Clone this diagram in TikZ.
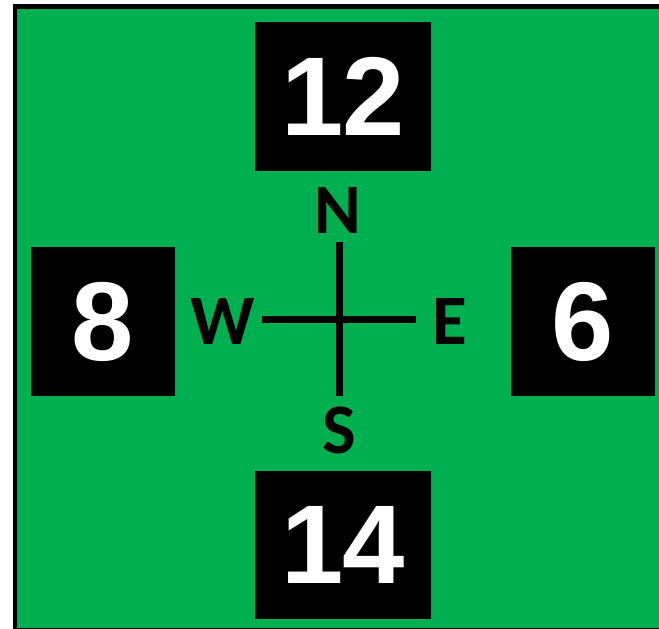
\documentclass[tikz,border=0pt]{standalone}
\usepackage{fontspec}
\newfontfamily\numfont{Liberation Sans}[BoldFont={Liberation Sans Bold}]
\newfontfamily\dirfont{Carlito}[BoldFont={Carlito Bold}]
\definecolor{fieldgreen}{HTML}{00B050}
\begin{document}
\begin{tikzpicture}[x=1pt,y=-1pt,
  numbox/.style={fill=black, text=white, inner sep=0pt, minimum height=149pt,
    font=\numfont\bfseries\fontsize{112}{112}\selectfont},
  dirlabel/.style={text=black, inner sep=0pt, font=\dirfont\bfseries\fontsize{71}{71}\selectfont},
  crossline/.style={draw=black, line width=7pt}]
\useasboundingbox (0,0) rectangle (659,629);
\begin{scope}
\clip (0,0) rectangle (659,629);
\draw[fill=fieldgreen, draw=black, line width=4.8pt] (15,6.7) rectangle (700,630.5);
\end{scope}
\node[numbox, minimum width=176pt] (n12) at (343,96.5) {1\kern-2pt 2};
\node[numbox, minimum width=144pt] (n8) at (103,321.5) {8};
\node[numbox, minimum width=144pt] (n6) at (583,321.5) {6};
\node[numbox, minimum width=176pt, minimum height=148pt] (n14) at (343,545) {1\kern-2pt 4};
\node[dirlabel] (N) at (338,210) {N};
\node[dirlabel] (S) at (339,430) {S};
\node[dirlabel] (W) at (222.5,321) {W};
\node[dirlabel] (E) at (450,321) {E};
\coordinate (ctop) at (339,242);
\coordinate (cbot) at (339,396);
\coordinate (cleft) at (262,319);
\coordinate (cright) at (416,319);
\draw[crossline] (ctop) -- (cbot);
\draw[crossline] (cleft) -- (cright);
\end{tikzpicture}
\end{document}
